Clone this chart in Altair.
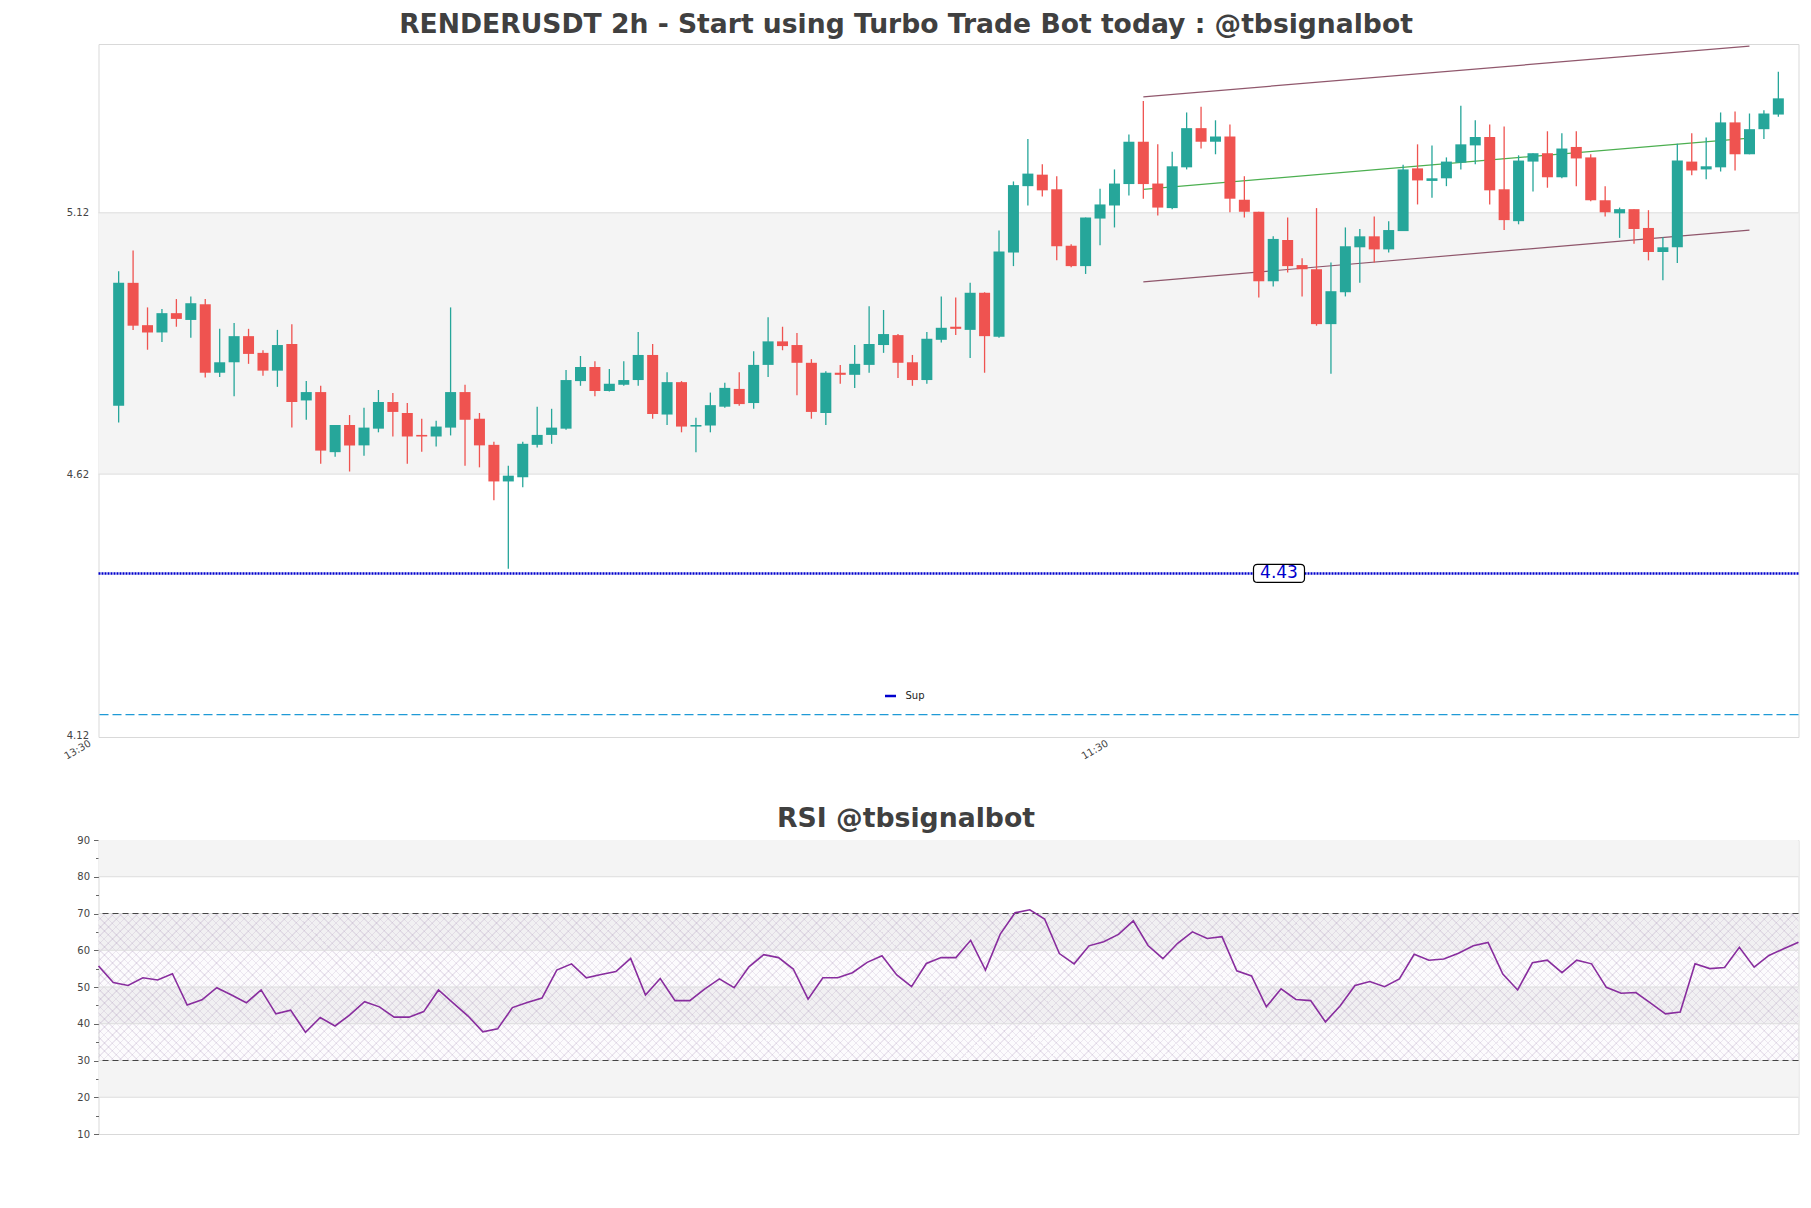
import altair as alt
import pandas as pd

# ---------------- data ----------------
opens = [4.751, 4.986, 4.905, 4.891, 4.928, 4.915, 4.945, 4.814, 4.834, 4.884,
         4.852, 4.818, 4.869, 4.761, 4.777, 4.662, 4.714, 4.675, 4.707, 4.758,
         4.737, 4.695, 4.692, 4.709, 4.777, 4.726, 4.676, 4.606, 4.614, 4.676,
         4.695, 4.707, 4.798, 4.825, 4.779, 4.791, 4.800, 4.848, 4.734, 4.796,
         4.711, 4.713, 4.749, 4.783, 4.756, 4.829, 4.874, 4.867, 4.833, 4.737,
         4.814, 4.810, 4.829, 4.867, 4.886, 4.834, 4.800, 4.877, 4.902, 4.896,
         4.967, 4.883, 5.044, 5.171, 5.193, 5.165, 5.057, 5.018, 5.109, 5.134,
         5.175, 5.256, 5.176, 5.129, 5.207, 5.282, 5.256, 5.266, 5.145, 5.122,
         4.989, 5.068, 5.020, 5.012, 4.907, 4.968, 5.054, 5.075, 5.050, 5.085,
         5.205, 5.181, 5.186, 5.216, 5.249, 5.265, 5.165, 5.104, 5.218, 5.234,
         5.188, 5.246, 5.226, 5.144, 5.119, 5.127, 5.091, 5.045, 5.054, 5.218,
         5.203, 5.207, 5.293, 5.232, 5.280, 5.308]
highs = [5.008, 5.048, 4.939, 4.936, 4.955, 4.960, 4.955, 4.898, 4.909, 4.898,
         4.857, 4.896, 4.907, 4.798, 4.789, 4.714, 4.733, 4.747, 4.781, 4.775,
         4.756, 4.726, 4.722, 4.939, 4.791, 4.737, 4.682, 4.636, 4.682, 4.749,
         4.745, 4.819, 4.846, 4.836, 4.821, 4.836, 4.892, 4.869, 4.815, 4.798,
         4.728, 4.776, 4.795, 4.815, 4.855, 4.920, 4.902, 4.890, 4.840, 4.817,
         4.829, 4.867, 4.941, 4.934, 4.888, 4.848, 4.892, 4.960, 4.958, 4.986,
         4.968, 5.086, 5.180, 5.261, 5.213, 5.190, 5.060, 5.111, 5.166, 5.203,
         5.270, 5.334, 5.251, 5.237, 5.312, 5.323, 5.297, 5.289, 5.190, 5.122,
         5.075, 5.111, 5.033, 5.129, 5.025, 5.092, 5.089, 5.113, 5.104, 5.212,
         5.251, 5.249, 5.226, 5.325, 5.297, 5.289, 5.285, 5.230, 5.234, 5.276,
         5.272, 5.276, 5.232, 5.171, 5.130, 5.127, 5.125, 5.073, 5.252, 5.272,
         5.264, 5.312, 5.314, 5.310, 5.316, 5.390]
lows = [4.719, 4.896, 4.858, 4.873, 4.902, 4.881, 4.805, 4.806, 4.769, 4.831,
        4.808, 4.787, 4.709, 4.724, 4.640, 4.653, 4.625, 4.655, 4.700, 4.692,
        4.640, 4.663, 4.673, 4.694, 4.636, 4.633, 4.570, 4.439, 4.595, 4.671,
        4.678, 4.705, 4.789, 4.769, 4.778, 4.789, 4.789, 4.726, 4.714, 4.700,
        4.662, 4.700, 4.747, 4.751, 4.745, 4.806, 4.857, 4.771, 4.726, 4.714,
        4.793, 4.785, 4.814, 4.852, 4.804, 4.789, 4.793, 4.872, 4.886, 4.842,
        4.814, 4.881, 5.018, 5.134, 5.151, 5.029, 5.016, 5.003, 5.058, 5.092,
        5.153, 5.147, 5.115, 5.127, 5.203, 5.243, 5.232, 5.121, 5.111, 4.958,
        4.979, 5.006, 4.960, 4.904, 4.812, 4.960, 4.986, 5.025, 5.044, 5.085,
        5.136, 5.149, 5.171, 5.203, 5.213, 5.136, 5.087, 5.098, 5.161, 5.168,
        5.186, 5.171, 5.142, 5.113, 5.072, 5.061, 5.029, 4.991, 5.024, 5.192,
        5.184, 5.199, 5.201, 5.232, 5.261, 5.304]
closes = [4.986, 4.904, 4.891, 4.928, 4.917, 4.947, 4.814, 4.834, 4.884, 4.850,
          4.818, 4.867, 4.758, 4.777, 4.665, 4.714, 4.675, 4.709, 4.758, 4.739,
          4.692, 4.692, 4.711, 4.777, 4.724, 4.675, 4.606, 4.617, 4.678, 4.695,
          4.709, 4.800, 4.825, 4.779, 4.793, 4.800, 4.848, 4.735, 4.796, 4.711,
          4.714, 4.752, 4.785, 4.754, 4.829, 4.874, 4.865, 4.833, 4.739, 4.814,
          4.810, 4.831, 4.869, 4.888, 4.833, 4.800, 4.879, 4.900, 4.898, 4.967,
          4.884, 5.046, 5.173, 5.195, 5.163, 5.056, 5.018, 5.111, 5.136, 5.176,
          5.256, 5.175, 5.130, 5.209, 5.282, 5.256, 5.266, 5.147, 5.122, 4.989,
          5.070, 5.018, 5.012, 4.907, 4.970, 5.056, 5.075, 5.050, 5.087, 5.203,
          5.182, 5.186, 5.218, 5.251, 5.265, 5.163, 5.106, 5.220, 5.234, 5.188,
          5.243, 5.224, 5.144, 5.121, 5.127, 5.089, 5.045, 5.054, 5.220, 5.201,
          5.209, 5.293, 5.232, 5.280, 5.310, 5.339]
rsi = [55.7, 51.2, 50.4, 52.5, 51.9, 53.6, 45.1, 46.5, 49.8, 47.8,
       45.7, 49.2, 42.7, 43.7, 37.7, 41.7, 39.4, 42.4, 46.0, 44.6,
       41.8, 41.8, 43.3, 49.2, 45.6, 42.1, 37.8, 38.6, 44.4, 45.8,
       47.0, 54.6, 56.3, 52.5, 53.4, 54.2, 57.8, 47.8, 52.3, 46.3,
       46.3, 49.4, 52.2, 49.8, 55.5, 58.8, 58.0, 54.9, 46.7, 52.5,
       52.5, 53.9, 56.7, 58.5, 53.3, 50.1, 56.4, 58.0, 58.0, 62.7,
       54.6, 64.4, 70.2, 71.0, 68.5, 59.1, 56.3, 61.2, 62.3, 64.3,
       68.0, 61.3, 57.7, 61.9, 65.0, 63.2, 63.7, 54.4, 53.0, 44.6,
       49.5, 46.6, 46.3, 40.5, 44.9, 50.4, 51.5, 50.1, 52.2, 58.9,
       57.3, 57.6, 59.2, 61.2, 62.1, 53.5, 49.2, 56.6, 57.3, 53.9,
       57.3, 56.3, 49.9, 48.3, 48.5, 45.6, 42.7, 43.2, 56.3, 55.0,
       55.3, 60.8, 55.4, 58.6, 60.4, 62.2]

x_tick_pos = [-1, 69]
x_tick_lab = ["13:30", "11:30"]
y_tick_vals = [4.12, 4.62, 5.12]
grid_vals = [4.62, 5.12]
price_band_lo = [4.62]
price_band_hi = [5.12]
support_level = [4.43]
support_name = ["Sup"]
support_label_x = [80.4]
lower_dash_level = [4.16]
channel_x = [71, 113]
channel_upper = [5.342, 5.439]
channel_mid = [5.165, 5.263]
channel_lower = [4.988, 5.087]

rsi_band_lo = [20, 40, 60, 80]
rsi_band_hi = [30, 50, 70, 90]
rsi_zone = [30, 70]
rsi_grid = [20, 30, 40, 50, 60, 70, 80]
rsi_levels = [30, 70]

TITLE_MAIN = "RENDERUSDT 2h - Start using Turbo Trade Bot today : @tbsignalbot"
TITLE_RSI = "RSI @tbsignalbot"

UP = "#26a69a"
DOWN = "#ef5350"
FONT = "DejaVu Sans"

W_MAIN, H_MAIN = 1700, 693
W_RSI, H_RSI = 1700, 294

# ---------------- frames ----------------
n = len(opens)
candles = pd.DataFrame({"idx": list(range(n)), "open": opens, "high": highs,
                        "low": lows, "close": closes})
rsi_df = pd.DataFrame({"i": list(range(len(rsi))), "rsi": rsi})

label_expr = " : ".join(
    f"datum.value == {p} ? '{l}'" for p, l in zip(x_tick_pos, x_tick_lab)) + " : ''"

XS = alt.Scale(domain=[-1.05, 116.05], nice=False, zero=False)
XAX = alt.Axis(values=x_tick_pos, labelExpr=label_expr, labelAngle=330,
               labelAlign="right", labelBaseline="top", labelPadding=1,
               labelOffset={"condition": {"test": "datum.value < 0", "value": -17}, "value": -10},
               grid=False, ticks=False, domain=False,
               labelFont=FONT, labelFontSize=10, labelColor="#444444",
               minExtent=30, maxExtent=30)
YS = alt.Scale(domain=[4.117, 5.443], nice=False, zero=False)
YAX = alt.Axis(values=y_tick_vals, format=".2f", grid=False, ticks=False,
               domain=False, labelFont=FONT, labelFontSize=10,
               labelColor="#444444", labelPadding=10, minExtent=50, maxExtent=50)


def xe(f):
    return alt.X(f"{f}:Q", scale=XS, axis=XAX, title=None)


def ye(f):
    return alt.Y(f"{f}:Q", scale=YS, axis=YAX, title=None)


cond = alt.condition("datum.close >= datum.open", alt.value(UP), alt.value(DOWN))

bands = alt.Chart(pd.DataFrame({"lo": price_band_lo, "hi": price_band_hi})).mark_rect(
    color="#f4f4f4").encode(y=ye("lo"), y2="hi:Q", x=alt.value(0), x2=alt.value("width"))
grid = alt.Chart(pd.DataFrame({"v": grid_vals})).mark_rule(
    color="#dddddd", strokeWidth=1).encode(y=ye("v"))
wicks = alt.Chart(candles).mark_rule(strokeWidth=1.3).encode(
    x=xe("idx"), y=ye("low"), y2="high:Q", color=cond)
bodies = alt.Chart(candles).mark_bar(size=11, orient="vertical").encode(
    x=xe("idx"), y=ye("open"), y2="close:Q", color=cond)

ch = pd.DataFrame({"x": channel_x, "up": channel_upper, "mid": channel_mid, "lo": channel_lower})
ch_up = alt.Chart(ch).mark_line(color="#7d3a52", strokeWidth=1.2, opacity=0.85).encode(
    x=xe("x"), y=ye("up"))
ch_lo = alt.Chart(ch).mark_line(color="#7d3a52", strokeWidth=1.2, opacity=0.85).encode(
    x=xe("x"), y=ye("lo"))
ch_mid = alt.Chart(ch).mark_line(color="#4caf50", strokeWidth=1.2).encode(
    x=xe("x"), y=ye("mid"))

sup_df = pd.DataFrame({"v": support_level, "name": support_name})
sup = alt.Chart(sup_df).mark_rule(strokeDash=[2, 1], strokeWidth=2.5).encode(
    y=ye("v"),
    color=alt.Color("name:N", scale=alt.Scale(domain=support_name, range=["#0000cd"]),
                    legend=alt.Legend(title=None, orient="none", legendX=785, legendY=645,
                                      symbolType="stroke", symbolStrokeWidth=2.5,
                                      symbolSize=121, labelFont=FONT, labelFontSize=10,
                                      labelColor="#222222", labelOffset=8, padding=0)))
dash_low = alt.Chart(pd.DataFrame({"v": lower_dash_level})).mark_rule(
    color="#1f9ad6", strokeDash=[9, 4], strokeWidth=1.2).encode(y=ye("v"))

ROUNDED = ("M -0.843,-0.353 L 0.843,-0.353 Q 1,-0.353 1,-0.196 L 1,0.196 "
           "Q 1,0.353 0.843,0.353 L -0.843,0.353 Q -1,0.353 -1,0.196 L -1,-0.196 "
           "Q -1,-0.353 -0.843,-0.353 Z")
lab_df = pd.DataFrame({"x": support_label_x, "v": support_level,
                       "t": [f"{v:.2f}" for v in support_level]})
lab_box = alt.Chart(lab_df).mark_point(shape=ROUNDED, size=2601, filled=True,
                                       fill="white", stroke="black", strokeWidth=1.2,
                                       opacity=1).encode(x=xe("x"), y=ye("v"))
lab_txt = alt.Chart(lab_df).mark_text(color="#0000cd", fontSize=17, font=FONT,
                                      baseline="middle").encode(
    x=xe("x"), y=ye("v"), text="t:N")

main = alt.layer(bands, grid, dash_low, sup, ch_up, ch_lo, ch_mid, wicks, bodies,
                 lab_box, lab_txt).properties(
    width=W_MAIN, height=H_MAIN,
    title=alt.TitleParams(TITLE_MAIN, dx=-42.5, offset=-15.6, baseline="alphabetic",
                          frame="group", anchor="middle", fontSize=26.6))

# ---------------- RSI panel ----------------
RXS = alt.Scale(domain=[0, len(rsi) - 1], nice=False, zero=False)
RYS = alt.Scale(domain=[10, 90], nice=False, zero=False)
RYAX = alt.Axis(values=list(range(10, 91, 5)),
                labelExpr="datum.value % 10 === 0 ? datum.label : ''",
                tickSize={"condition": {"test": "datum.value % 10 === 0", "value": 5}, "value": 3},
                tickColor="#666666", grid=False, domain=False, labelFont=FONT,
                labelFontSize=10, labelColor="#444444", labelPadding=4,
                minExtent=50, maxExtent=50)


def rx(f):
    return alt.X(f"{f}:Q", scale=RXS, axis=None, title=None)


def ry(f):
    return alt.Y(f"{f}:Q", scale=RYS, axis=RYAX, title=None)


# cross-hatch texture for the 30-70 zone, made from two striped linear gradients
zone_h = H_RSI * (rsi_zone[1] - rsi_zone[0]) / 80.0
ratio = zone_h / W_RSI
stretch = 1.1
span = stretch * W_RSI * (1 + ratio * ratio)
period = 8.0 / span
line_frac = 0.15
HATCH = "rgba(140,110,160,0.15)"
CLEAR = "rgba(140,110,160,0)"


def hatch_stops():
    stops = []
    k = 0
    while (k + 1) * period <= 1.0:
        b = k * period
        stops.append(alt.GradientStop(offset=round(b, 6), color=CLEAR))
        stops.append(alt.GradientStop(offset=round(b + period * (1 - line_frac), 6), color=CLEAR))
        stops.append(alt.GradientStop(offset=round(b + period * (1 - line_frac), 6), color=HATCH))
        stops.append(alt.GradientStop(offset=round(b + period, 6), color=HATCH))
        k += 1
    return stops


grad_a = alt.LinearGradient(gradient="linear", x1=0, y1=0, x2=stretch,
                            y2=stretch * ratio, stops=hatch_stops())
grad_b = alt.LinearGradient(gradient="linear", x1=0, y1=1, x2=stretch,
                            y2=1 - stretch * ratio, stops=hatch_stops())

zone_df = pd.DataFrame({"lo": [rsi_zone[0]], "hi": [rsi_zone[1]]})
r_bands = alt.Chart(pd.DataFrame({"lo": rsi_band_lo, "hi": rsi_band_hi})).mark_rect(
    color="#f4f4f4").encode(y=ry("lo"), y2="hi:Q", x=alt.value(0), x2=alt.value("width"))
r_tint = alt.Chart(zone_df).mark_rect(color="#7b4f9d", opacity=0.025).encode(
    y=ry("lo"), y2="hi:Q", x=alt.value(0), x2=alt.value("width"))
r_hatch_a = alt.Chart(zone_df).mark_rect(color=grad_a).encode(
    y=ry("lo"), y2="hi:Q", x=alt.value(0), x2=alt.value("width"))
r_hatch_b = alt.Chart(zone_df).mark_rect(color=grad_b).encode(
    y=ry("lo"), y2="hi:Q", x=alt.value(0), x2=alt.value("width"))
r_grid = alt.Chart(pd.DataFrame({"v": rsi_grid})).mark_rule(
    color="#dddddd", strokeWidth=1).encode(y=ry("v"))
r_lev = alt.Chart(pd.DataFrame({"v": rsi_levels})).mark_rule(
    color="#444444", strokeDash=[6, 4], strokeWidth=1.2).encode(y=ry("v"))
r_line = alt.Chart(rsi_df).mark_line(color="#882d9e", strokeWidth=1.6).encode(
    x=rx("i"), y=ry("rsi"))

rsi_chart = alt.layer(r_bands, r_tint, r_hatch_a, r_hatch_b, r_grid, r_lev, r_line).properties(
    width=W_RSI, height=H_RSI,
    title=alt.TitleParams(TITLE_RSI, dx=-42.5, offset=-18.5, baseline="alphabetic",
                          frame="group", anchor="middle", fontSize=26.7))

chart = alt.vconcat(main, rsi_chart, spacing=37).properties(
    padding={"left": 47.5, "top": 11, "right": 5, "bottom": 5},
    background="white",
).configure_view(stroke="#d9d9d9", strokeWidth=1).configure_title(
    font=FONT, fontSize=26, fontWeight="bold", color="#404040")

chart.save("out.html", embed_options={"renderer": "svg", "actions": False})
